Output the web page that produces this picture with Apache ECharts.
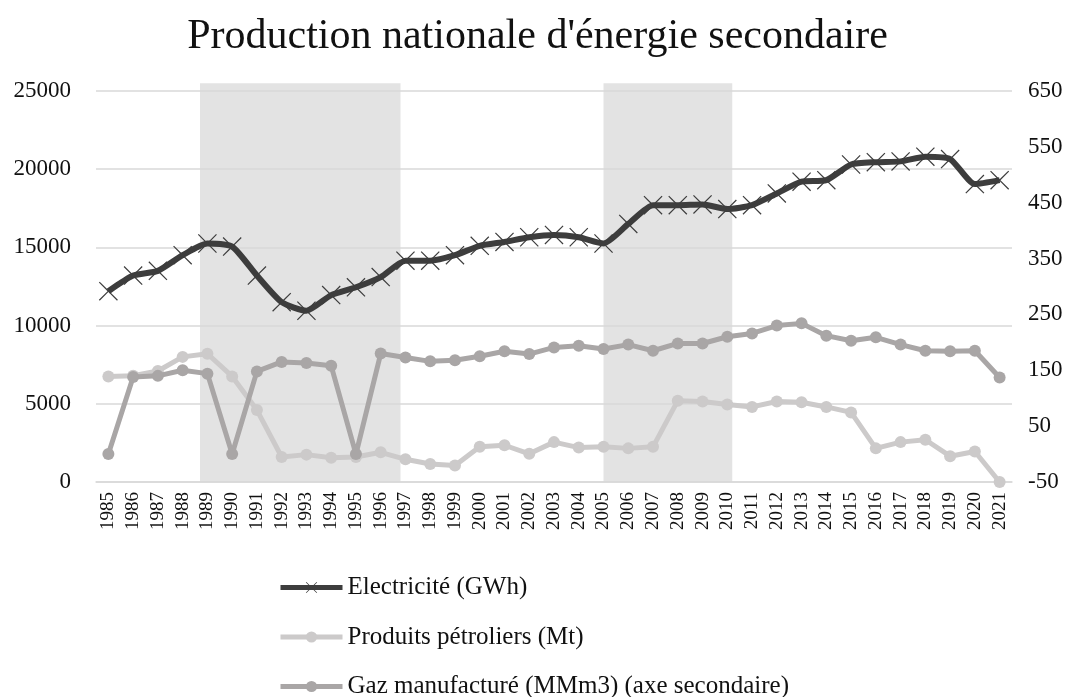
<!DOCTYPE html>
<html>
<head>
<meta charset="utf-8">
<title>Production nationale d'énergie secondaire</title>
<script src="https://cdn.jsdelivr.net/npm/echarts@6/dist/echarts.min.js"></script>
<style>
  html, body { margin: 0; padding: 0; background: #fff; }
  #chart { width: 1075px; height: 697px; }
</style>
</head>
<body>
<div id="chart"></div>
<script>
// années
const years = ['1985', '1986', '1987', '1988', '1989', '1990', '1991', '1992', '1993', '1994',
  '1995', '1996', '1997', '1998', '1999', '2000', '2001', '2002', '2003', '2004',
  '2005', '2006', '2007', '2008', '2009', '2010', '2011', '2012', '2013', '2014',
  '2015', '2016', '2017', '2018', '2019', '2020', '2021']

// Electricité (GWh) - axe principal
const electricite = [12200, 13200, 13500, 14500, 15250, 15050, 13200, 11500, 10950, 11950,
  12450, 13100, 14150, 14150, 14500, 15100, 15350, 15650, 15800, 15650,
  15250, 16500, 17700, 17700, 17750, 17450, 17700, 18450, 19200, 19300,
  20300, 20450, 20500, 20800, 20650, 19050, 19300]

// Produits pétroliers (Mt) - axe principal
const petroliers = [6750, 6800, 7100, 8000, 8200, 6750, 4600, 1600, 1750, 1550,
  1600, 1900, 1450, 1150, 1050, 2250, 2350, 1800, 2550, 2200,
  2250, 2150, 2250, 5200, 5150, 4950, 4800, 5150, 5100, 4800,
  4450, 2150, 2550, 2700, 1650, 1950, 0]

// Gaz manufacturé (MMm3) - axe secondaire
const gaz = [0, 138, 140, 150, 144, 0, 148, 165, 163, 158,
  0, 180, 173, 166, 168, 175, 184, 179, 191, 194,
  188, 196, 185, 198, 198, 210, 216, 230, 234, 212,
  203, 209, 196, 185, 184, 185, 137]

// noms des séries (ordre de la légende)
const seriesNames = ['Electricité (GWh)', 'Produits pétroliers (Mt)', 'Gaz manufacturé (MMm3) (axe secondaire)']

// périodes grisées (en années)
const shadedPeriods = [[1988.7, 1996.8], [2005, 2010.2]]
const shadeTop = 25500

// axes
const leftTicks = { min: 0, max: 25000, interval: 5000 }
const rightTicks = { min: -50, max: 650, interval: 100 }

const serif = '"Liberation Serif", "DejaVu Serif", serif'
const crossPath = 'path://M0,0.9 L0.9,0 L10,9.1 L19.1,0 L20,0.9 L10.9,10 L20,19.1 L19.1,20 L10,10.9 L0.9,20 L0,19.1 L9.1,10 Z'

const chart = echarts.init(document.getElementById('chart'), null, { renderer: 'canvas' })

// une légende par ligne, empilées verticalement
const legends = seriesNames.map((name, i) => ({
  left: 278,
  top: 575 + i * 49.5,
  padding: 0,
  itemWidth: 62,
  itemHeight: 14,
  lineStyle: { width: 5 },
  textStyle: {
    fontFamily: serif,
    fontSize: 25,
    lineHeight: 22,
    color: '#111'
  },
  data: [name]
}))

const options = {
  backgroundColor: '#ffffff',
  animation: false,
  title: {
    text: "Production nationale d'énergie secondaire",
    left: 'center',
    top: 11,
    textStyle: {
      fontFamily: serif,
      fontSize: 42,
      fontWeight: 'normal',
      color: '#111'
    }
  },
  legend: legends,
  grid: {
    left: 96,
    right: 63,
    top: 91,
    bottom: 215
  },
  xAxis: [
    {
      type: 'category',
      data: years,
      boundaryGap: true,
      axisLine: { show: true, lineStyle: { color: '#d9d9d9', width: 1.5 } },
      axisTick: { show: false },
      axisLabel: {
        rotate: 90,
        margin: 10,
        interval: 0,
        fontFamily: serif,
        fontSize: 19,
        color: '#111'
      }
    },
    {
      type: 'value',
      show: false,
      min: 1984.5,
      max: 2021.5
    }
  ],
  yAxis: [
    {
      type: 'value',
      min: leftTicks.min,
      max: leftTicks.max,
      interval: leftTicks.interval,
      axisLine: { show: false },
      axisTick: { show: false },
      splitLine: { lineStyle: { color: '#d9d9d9', width: 1.5 } },
      axisLabel: {
        margin: 25,
        fontFamily: serif,
        fontSize: 23,
        color: '#111',
        formatter: v => String(v)
      }
    },
    {
      type: 'value',
      position: 'right',
      min: rightTicks.min,
      max: rightTicks.max,
      interval: rightTicks.interval,
      axisLine: { show: false },
      axisTick: { show: false },
      splitLine: { show: false },
      axisLabel: {
        margin: 16,
        fontFamily: serif,
        fontSize: 23,
        color: '#111',
        formatter: v => String(v)
      }
    }
  ],
  series: [
    {
      // série vide pour l'axe des périodes
      name: 'periodes',
      type: 'line',
      xAxisIndex: 1,
      yAxisIndex: 0,
      data: [],
      silent: true
    },
    {
      name: seriesNames[1],
      type: 'line',
      data: petroliers,
      yAxisIndex: 0,
      symbol: 'circle',
      symbolSize: 12,
      z: 3,
      lineStyle: { color: '#cccaca', width: 5 },
      itemStyle: { color: '#cccaca' }
    },
    {
      name: seriesNames[2],
      type: 'line',
      data: gaz,
      yAxisIndex: 1,
      symbol: 'circle',
      symbolSize: 12,
      z: 4,
      lineStyle: { color: '#a9a6a6', width: 5 },
      itemStyle: { color: '#a9a6a6' }
    },
    {
      name: seriesNames[0],
      type: 'line',
      data: electricite,
      yAxisIndex: 0,
      smooth: 0.2,
      symbol: crossPath,
      symbolSize: 19,
      z: 5,
      lineStyle: { color: '#3d3d3d', width: 6 },
      itemStyle: { color: '#3d3d3d' }
    }
  ]
}

chart.setOption(options)

// bandes grisées, placées avec les échelles du graphique
const yBottom = chart.convertToPixel({ yAxisIndex: 0 }, 0)
const yTop = chart.convertToPixel({ yAxisIndex: 0 }, shadeTop)
chart.setOption({
  graphic: shadedPeriods.map(p => {
    const x0 = chart.convertToPixel({ xAxisIndex: 1 }, p[0])
    const x1 = chart.convertToPixel({ xAxisIndex: 1 }, p[1])
    return {
      type: 'rect',
      silent: true,
      z: -1,
      shape: { x: x0, y: yTop, width: x1 - x0, height: yBottom - yTop },
      style: { fill: '#e3e3e3' }
    }
  })
})
</script>
</body>
</html>
